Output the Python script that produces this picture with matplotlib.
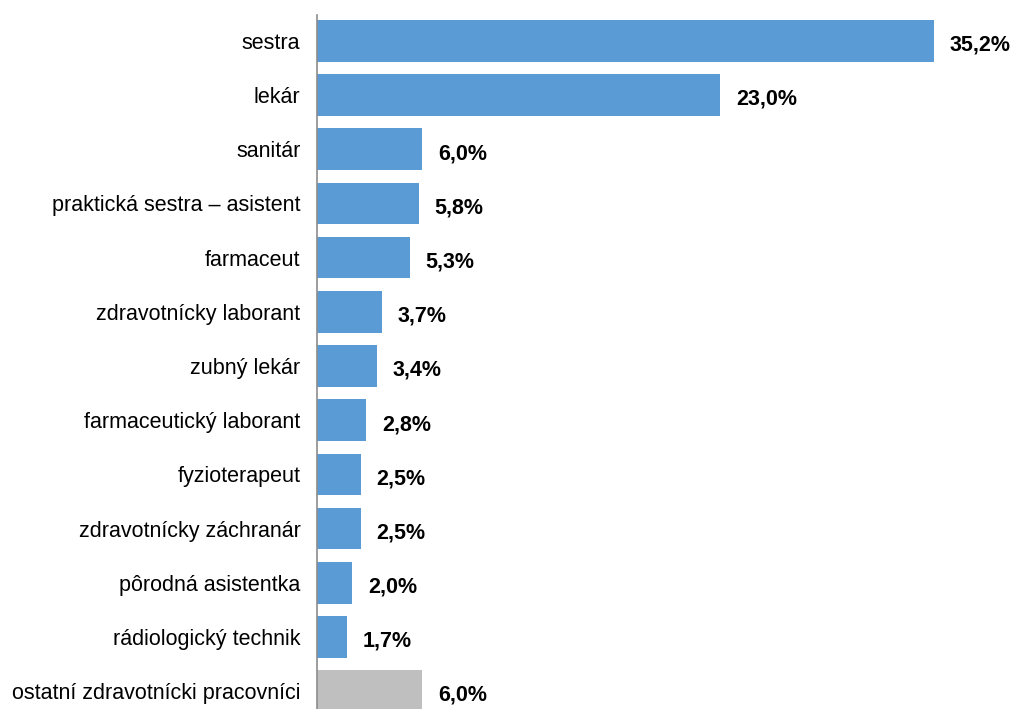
import matplotlib.pyplot as plt
import numpy as np

plt.rcParams['font.family'] = ['Liberation Sans', 'DejaVu Sans']

kategorie = ["sestra", "lekár", "sanitár", "praktická sestra – asistent", "farmaceut",
             "zdravotnícky laborant", "zubný lekár", "farmaceutický laborant",
             "fyzioterapeut", "zdravotnícky záchranár", "pôrodná asistentka",
             "rádiologický technik", "ostatní zdravotnícki pracovníci"]
podiel = [35.2, 23.0, 6.0, 5.8, 5.3, 3.7, 3.4, 2.8, 2.5, 2.5, 2.0, 1.7, 6.0]
farby = ["#5B9BD5"] * 12 + ["#BFBFBF"]

fig = plt.figure(figsize=(10.13, 7.09), dpi=100)
ax = fig.add_axes([0.313, 0.0, 0.687, 0.979])

y = np.arange(len(kategorie))
ax.barh(y, podiel, height=0.77, color=farby)

for yi, v in zip(y, podiel):
    ax.text(v + 0.9, yi + 0.08, f"{v:.1f}".replace(".", ",") + "%", va="center", ha="left",
            fontsize=15.5, fontweight="bold", color="black")

ax.set_yticks(y)
ax.set_yticklabels(kategorie, fontsize=15.5)
ax.tick_params(axis="y", length=0, pad=12)
ax.set_xticks([])
ax.set_xlim(0, 39.7)
ax.set_ylim(12.33, -0.48)

for s in ["top", "right", "bottom"]:
    ax.spines[s].set_visible(False)
ax.spines["left"].set_color("#8C8C8C")
ax.spines["left"].set_linewidth(1.2)

fig.savefig("out.png", dpi=100)
